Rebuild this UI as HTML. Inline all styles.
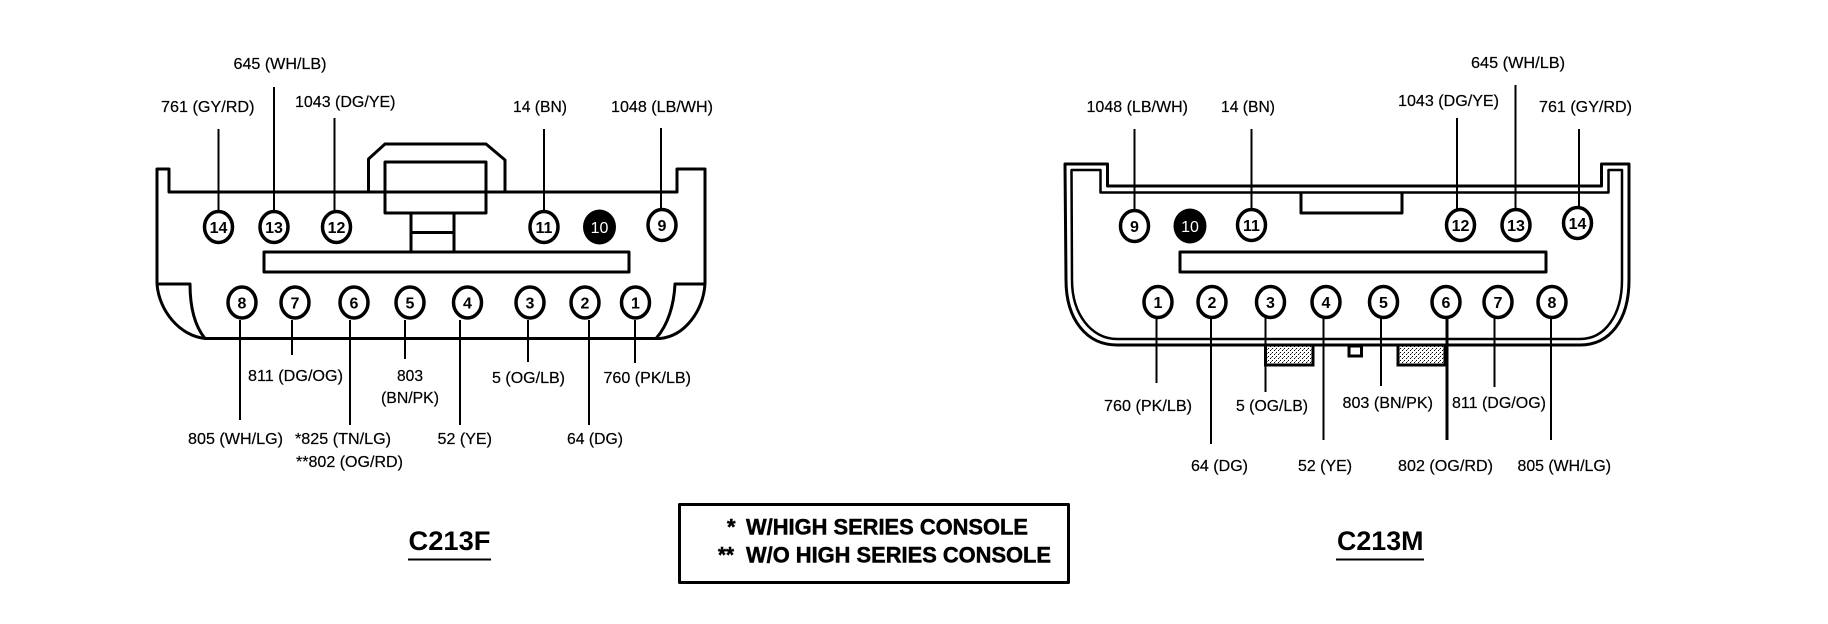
<!DOCTYPE html>
<html><head><meta charset="utf-8"><style>
html,body{margin:0;padding:0;background:#fff}
svg{display:block}
text{font-family:"Liberation Sans",sans-serif;fill:#000}
.l{font-size:16px;stroke:#000;stroke-width:.2}
.p{font-size:16px;font-weight:bold;text-anchor:middle}
.t{font-size:27px;font-weight:bold}
.n{font-size:22px;font-weight:bold;stroke:#000;stroke-width:.5}
.s{fill:none;stroke:#000;stroke-width:3;stroke-linejoin:round}
.w{fill:none;stroke:#000;stroke-width:2}
.c{fill:#fff;stroke:#000;stroke-width:3.500}
</style></head><body>
<svg width="1828" height="624" viewBox="0 0 1828 624" xmlns="http://www.w3.org/2000/svg">
<defs><pattern id="d" width="4" height="4" patternUnits="userSpaceOnUse"><rect width="4" height="4" fill="#fff"/><rect width="1" height="1" fill="#000"/><rect x="2" y="2" width="1" height="1" fill="#000"/><rect x="3" y="1" width="1" height="1" fill="#777"/></pattern></defs>
<rect width="1828" height="624" fill="#fff"/>

<!-- C213F body -->
<path class="s" d="M157 284V169H169V192H677V169H705V284"/>
<path class="s" d="M368.500 192V159L385 144H486L505 160V192"/>
<path class="s" d="M157 284C159 311 180 336 205 338.500H660C685 336 703 311 705 284"/>
<path class="s" d="M157 284H190C190 305 194 325 205 338.500M705 284H675C674 305 668 325 656 338.500"/>
<rect class="s" x="385" y="162" width="101" height="51"/>
<path class="s" d="M411 213V252M454 213V252M411 232.500H454"/>
<rect class="s" x="264" y="252" width="365" height="20"/>

<!-- C213F leaders -->
<path class="w" d="M218.500 129V210M274 87V210M334.500 118V210M544 129V210M661 128V208M240 320V420M292 320V355M350 320V425M405 320V359M460 320V425M528 320V362M589 320V425M635 320V363"/>

<!-- C213F pins -->
<ellipse class="c" cx="218.500" cy="227" rx="14" ry="15.500"/><text class="p" x="218.500" y="233">14</text>
<ellipse class="c" cx="274" cy="227" rx="14" ry="15.500"/><text class="p" x="274" y="233">13</text>
<ellipse class="c" cx="336.500" cy="227" rx="14" ry="15.500"/><text class="p" x="336.500" y="233">12</text>
<ellipse class="c" cx="544" cy="227" rx="14" ry="15.500"/><text class="p" x="544" y="233">11</text>
<ellipse cx="599.500" cy="227" rx="16.500" ry="17.500" fill="#000"/><text class="p" x="599.500" y="233" style="fill:#fff;font-weight:normal">10</text>
<ellipse class="c" cx="662" cy="225" rx="14" ry="15.500"/><text class="p" x="662" y="231">9</text>
<ellipse class="c" cx="242" cy="302.500" rx="14" ry="15.500"/><text class="p" x="242" y="308.500">8</text>
<ellipse class="c" cx="295" cy="302.500" rx="14" ry="15.500"/><text class="p" x="295" y="308.500">7</text>
<ellipse class="c" cx="354" cy="302.500" rx="14" ry="15.500"/><text class="p" x="354" y="308.500">6</text>
<ellipse class="c" cx="410" cy="302.500" rx="14" ry="15.500"/><text class="p" x="410" y="308.500">5</text>
<ellipse class="c" cx="467.500" cy="302.500" rx="14" ry="15.500"/><text class="p" x="467.500" y="308.500">4</text>
<ellipse class="c" cx="530" cy="302.500" rx="14" ry="15.500"/><text class="p" x="530" y="308.500">3</text>
<ellipse class="c" cx="585" cy="302.500" rx="14" ry="15.500"/><text class="p" x="585" y="308.500">2</text>
<ellipse class="c" cx="635.500" cy="302.500" rx="14" ry="15.500"/><text class="p" x="635.500" y="308.500">1</text>

<!-- C213F labels -->
<text class="l" x="233.500" y="69" textLength="93" lengthAdjust="spacingAndGlyphs">645 (WH/LB)</text>
<text class="l" x="161" y="112" textLength="93.500" lengthAdjust="spacingAndGlyphs">761 (GY/RD)</text>
<text class="l" x="295" y="107" textLength="100.500" lengthAdjust="spacingAndGlyphs">1043 (DG/YE)</text>
<text class="l" x="513" y="112" textLength="54" lengthAdjust="spacingAndGlyphs">14 (BN)</text>
<text class="l" x="611" y="112" textLength="102" lengthAdjust="spacingAndGlyphs">1048 (LB/WH)</text>
<text class="l" x="248" y="381" textLength="95" lengthAdjust="spacingAndGlyphs">811 (DG/OG)</text>
<text class="l" x="397" y="381" textLength="26" lengthAdjust="spacingAndGlyphs">803</text>
<text class="l" x="381" y="403" textLength="58" lengthAdjust="spacingAndGlyphs">(BN/PK)</text>
<text class="l" x="492" y="383" textLength="73" lengthAdjust="spacingAndGlyphs">5 (OG/LB)</text>
<text class="l" x="603.500" y="383" textLength="87.500" lengthAdjust="spacingAndGlyphs">760 (PK/LB)</text>
<text class="l" x="188" y="444" textLength="95" lengthAdjust="spacingAndGlyphs">805 (WH/LG)</text>
<text class="l" x="295" y="444" textLength="96" lengthAdjust="spacingAndGlyphs">*825 (TN/LG)</text>
<text class="l" x="296" y="467" textLength="107" lengthAdjust="spacingAndGlyphs">**802 (OG/RD)</text>
<text class="l" x="437.500" y="444" textLength="54.500" lengthAdjust="spacingAndGlyphs">52 (YE)</text>
<text class="l" x="567" y="444" textLength="56" lengthAdjust="spacingAndGlyphs">64 (DG)</text>
<text class="t" x="408.500" y="550" textLength="82" lengthAdjust="spacingAndGlyphs">C213F</text>
<path d="M408 559.500H491" stroke="#000" stroke-width="2"/>

<!-- Note box -->
<rect class="s" x="679.500" y="504.500" width="389" height="78"/>
<text class="n" x="727" y="534.500">*</text>
<text class="n" x="746" y="534.500" textLength="282" lengthAdjust="spacingAndGlyphs">W/HIGH SERIES CONSOLE</text>
<text class="n" x="718" y="562.500" textLength="16" lengthAdjust="spacingAndGlyphs">**</text>
<text class="n" x="746" y="562.500" textLength="305" lengthAdjust="spacingAndGlyphs">W/O HIGH SERIES CONSOLE</text>

<!-- C213M body -->
<path class="s" d="M1065 164H1107.500V186H1601.500V164H1629V280C1629 320 1610 345 1580 345H1117C1087 345 1066 320 1066 280Z"/>
<path class="s" d="M1071.500 170H1100.500V192.500H1608.500V170H1622V280C1622 315 1605 339 1580 339H1117C1092 339 1072 315 1072 280Z" style="stroke-width:2.500"/>
<path class="s" d="M1301 193V213H1402V193"/>
<rect class="s" x="1180" y="252" width="366" height="20"/>
<rect x="1265.500" y="345" width="47.500" height="20" fill="url(#d)" stroke="#000" stroke-width="3"/>
<rect x="1349" y="346" width="12.500" height="10" fill="#fff" stroke="#000" stroke-width="3"/>
<rect x="1398" y="345" width="47" height="20" fill="url(#d)" stroke="#000" stroke-width="3"/>

<!-- C213M leaders -->
<path class="w" d="M1134.500 129V210M1251.500 129V210M1457 118V210M1515.500 85V210M1579 129V208M1156.500 318V383M1211 318V444M1265.500 318V392M1323.500 318V440M1381 318V386M1494.500 318V387M1551 318V440"/>
<path d="M1447 318V440" stroke="#000" stroke-width="3"/>

<!-- C213M pins -->
<ellipse class="c" cx="1134.500" cy="226" rx="14" ry="15.500"/><text class="p" x="1134.500" y="232">9</text>
<ellipse cx="1190" cy="226" rx="16.500" ry="17.500" fill="#000"/><text class="p" x="1190" y="232" style="fill:#fff;font-weight:normal">10</text>
<ellipse class="c" cx="1251.500" cy="225" rx="14" ry="15.500"/><text class="p" x="1251.500" y="231">11</text>
<ellipse class="c" cx="1460.500" cy="225" rx="14" ry="15.500"/><text class="p" x="1460.500" y="231">12</text>
<ellipse class="c" cx="1516" cy="225" rx="14" ry="15.500"/><text class="p" x="1516" y="231">13</text>
<ellipse class="c" cx="1577.500" cy="223" rx="14" ry="15.500"/><text class="p" x="1577.500" y="229">14</text>
<ellipse class="c" cx="1158" cy="302" rx="14" ry="15.500"/><text class="p" x="1158" y="308">1</text>
<ellipse class="c" cx="1212" cy="302" rx="14" ry="15.500"/><text class="p" x="1212" y="308">2</text>
<ellipse class="c" cx="1270.500" cy="302" rx="14" ry="15.500"/><text class="p" x="1270.500" y="308">3</text>
<ellipse class="c" cx="1326" cy="302" rx="14" ry="15.500"/><text class="p" x="1326" y="308">4</text>
<ellipse class="c" cx="1383.500" cy="302" rx="14" ry="15.500"/><text class="p" x="1383.500" y="308">5</text>
<ellipse class="c" cx="1446" cy="302" rx="14" ry="15.500"/><text class="p" x="1446" y="308">6</text>
<ellipse class="c" cx="1498" cy="302" rx="14" ry="15.500"/><text class="p" x="1498" y="308">7</text>
<ellipse class="c" cx="1552" cy="302" rx="14" ry="15.500"/><text class="p" x="1552" y="308">8</text>

<!-- C213M labels -->
<text class="l" x="1471" y="68" textLength="94" lengthAdjust="spacingAndGlyphs">645 (WH/LB)</text>
<text class="l" x="1086.500" y="112" textLength="101.500" lengthAdjust="spacingAndGlyphs">1048 (LB/WH)</text>
<text class="l" x="1221" y="112" textLength="54" lengthAdjust="spacingAndGlyphs">14 (BN)</text>
<text class="l" x="1398" y="106" textLength="101" lengthAdjust="spacingAndGlyphs">1043 (DG/YE)</text>
<text class="l" x="1539" y="112" textLength="93" lengthAdjust="spacingAndGlyphs">761 (GY/RD)</text>
<text class="l" x="1104" y="411" textLength="88" lengthAdjust="spacingAndGlyphs">760 (PK/LB)</text>
<text class="l" x="1236" y="411" textLength="72" lengthAdjust="spacingAndGlyphs">5 (OG/LB)</text>
<text class="l" x="1342.500" y="408" textLength="90.500" lengthAdjust="spacingAndGlyphs">803 (BN/PK)</text>
<text class="l" x="1452" y="408" textLength="94" lengthAdjust="spacingAndGlyphs">811 (DG/OG)</text>
<text class="l" x="1191" y="471" textLength="57" lengthAdjust="spacingAndGlyphs">64 (DG)</text>
<text class="l" x="1298" y="471" textLength="54" lengthAdjust="spacingAndGlyphs">52 (YE)</text>
<text class="l" x="1398" y="471" textLength="95" lengthAdjust="spacingAndGlyphs">802 (OG/RD)</text>
<text class="l" x="1517.500" y="471" textLength="93.500" lengthAdjust="spacingAndGlyphs">805 (WH/LG)</text>
<text class="t" x="1337" y="550" textLength="86.500" lengthAdjust="spacingAndGlyphs">C213M</text>
<path d="M1336 559.500H1424" stroke="#000" stroke-width="2"/>
</svg>
</body></html>
